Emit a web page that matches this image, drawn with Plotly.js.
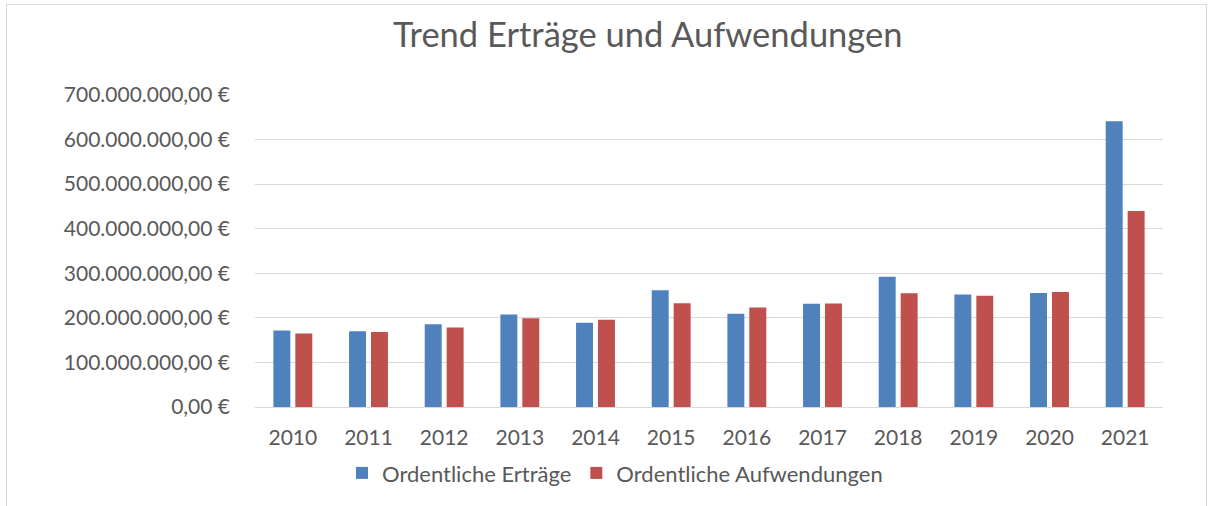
<!DOCTYPE html>
<html>
<head>
<meta charset="utf-8">
<script src="https://cdn.plot.ly/plotly-3.0.1.min.js"></script>
<style>
html,body{margin:0;padding:0;background:#fff;}
#frame{position:absolute;left:6px;top:4px;width:1201px;height:510px;border:1px solid #d9d9d9;box-sizing:border-box;}
#chart{position:absolute;left:0;top:0;width:1213px;height:506px;}
</style>
</head>
<body>
<div id="frame"></div>
<div id="chart"></div>
<script>
var years = ['2010','2011','2012','2013','2014','2015','2016','2017','2018','2019','2020','2021'];
var ertraege = [171.7e6,170e6,185.8e6,207.6e6,188.8e6,262e6,209e6,231.5e6,292e6,252.6e6,256e6,641e6];
var aufwendungen = [165e6,168.5e6,178.4e6,199.3e6,195.5e6,233e6,223e6,232e6,255e6,249.4e6,257.8e6,440e6];
var yTickVals = [0,100e6,200e6,300e6,400e6,500e6,600e6,700e6];
var yTickText = ['0,00 €','100.000.000,00 €','200.000.000,00 €','300.000.000,00 €','400.000.000,00 €','500.000.000,00 €','600.000.000,00 €','700.000.000,00 €'];

var font = 'Lato, Open Sans, sans-serif';
var data = [
  {type:'bar', name:'Ordentliche Erträge', x:years, y:ertraege, marker:{color:'#4F81BD'}, hoverinfo:'none'},
  {type:'bar', name:'Ordentliche Aufwendungen', x:years, y:aufwendungen, marker:{color:'#C0504D'}, hoverinfo:'none'}
];
var layout = {
  width:1213, height:506,
  paper_bgcolor:'rgba(0,0,0,0)', plot_bgcolor:'rgba(0,0,0,0)',
  margin:{l:255, r:50, t:95, b:99},
  barmode:'group', bargap:0.42, bargroupgap:0.227,
  font:{family:font, color:'#595959', size:21},
  title:{text:'Trend Erträge und Aufwendungen', font:{family:font, size:34.5, color:'#595959'}, xref:'container', x:0.534, xanchor:'center', yref:'container', y:0.93, yanchor:'middle'},
  xaxis:{type:'category', showgrid:false, showline:false, ticks:'', tickfont:{size:21, color:'#595959'}, ticklabelstandoff:16},
  yaxis:{range:[0,700e6], tickvals:yTickVals, ticktext:yTickText, showgrid:true, gridcolor:'#d9d9d9', gridwidth:1, zeroline:true, zerolinecolor:'#d9d9d9', zerolinewidth:1, tickfont:{size:21, color:'#595959'}, ticklabelstandoff:24, showline:false},
  showlegend:true,
  legend:{orientation:'h', xref:'container', x:0.507, xanchor:'center', yref:'container', y:0.065, yanchor:'middle', font:{size:22, color:'#595959'}, itemwidth:30, traceorder:'normal'}
};
Plotly.newPlot('chart', data, layout, {staticPlot:true});
</script>
</body>
</html>
